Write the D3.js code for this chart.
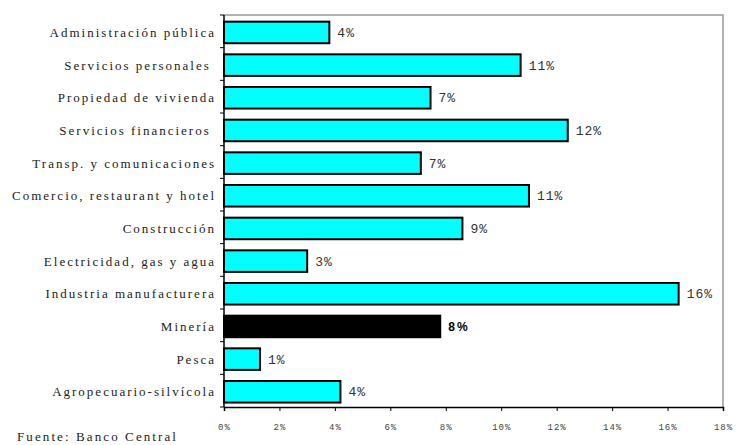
<!DOCTYPE html>
<html>
<head>
<meta charset="utf-8">
<script src="https://cdn.jsdelivr.net/npm/d3@7"></script>
<style>
  html, body { margin: 0; padding: 0; background: #fff; }
  svg { display: block; }
</style>
</head>
<body>
<svg id="chart" width="741" height="445"></svg>
<script>
// Sector shares (%), listed top to bottom
const categories = [
  "Administración pública",
  "Servicios personales ",
  "Propiedad de vivienda",
  "Servicios financieros ",
  "Transp. y comunicaciones",
  "Comercio, restaurant y hotel",
  "Construcción",
  "Electricidad, gas y agua",
  "Industria manufacturera",
  "Minería",
  "Pesca",
  "Agropecuario-silvícola"
];
const values = [3.8, 10.7, 7.45, 12.4, 7.1, 11.0, 8.6, 3.0, 16.4, 7.8, 1.3, 4.2];
const highlight = "Minería";
const xTicks = [0, 2, 4, 6, 8, 10, 12, 14, 16, 18];
const source = "Fuente: Banco Central";

const svg = d3.select("#chart");
const plotL = 224, plotR = 723, plotT = 15, plotB = 407;
const labelFont = "Liberation Serif, Times New Roman, serif";

const x = d3.scaleLinear().domain([0, 18]).range([plotL, plotR]);
const y = d3.scaleBand().domain(categories).range([plotT, plotB])
  .paddingInner(0.34).paddingOuter(0.17).align(0.6);

// plot frame (top and right in grey)
svg.append("path")
  .attr("d", `M${plotL},${plotT}H${plotR}V${plotB}`)
  .attr("fill", "none").attr("stroke", "#999").attr("stroke-width", 1.5);

// bars
const data = categories.map((c, i) => ({ c, v: values[i] }));
svg.append("g").selectAll("rect").data(data).join("rect")
  .attr("x", x(0))
  .attr("y", d => y(d.c))
  .attr("width", d => x(d.v) - x(0))
  .attr("height", y.bandwidth())
  .attr("fill", d => d.c === highlight ? "#000" : "#00ffff")
  .attr("stroke", "#000").attr("stroke-width", 2);

// value labels
svg.append("g").selectAll("text").data(data).join("text")
  .attr("x", d => x(d.v) + 8)
  .attr("y", d => y(d.c) + y.bandwidth() / 2)
  .attr("dy", "0.35em")
  .attr("font-family", d => d.c === highlight ? "Liberation Sans, Arial, sans-serif" : "Liberation Mono, Courier New, monospace")
  .attr("font-weight", d => d.c === highlight ? "bold" : "normal")
  .attr("font-size", d => d.c === highlight ? "12px" : "13px")
  .attr("letter-spacing", d => d.c === highlight ? "2px" : "1px")
  .attr("fill", d => d.c === highlight ? "#000" : "#333")
  .text(d => d3.format(".0f")(d.v) + "%");

// category axis: separators between bands
const step = y.step();
const seps = d3.range(categories.length + 1).map(i => plotT + i * step);
svg.append("g").selectAll("line").data(seps).join("line")
  .attr("x1", plotL - 4).attr("x2", plotL)
  .attr("y1", d => d).attr("y2", d => d)
  .attr("stroke", "#000").attr("stroke-width", 1);
svg.append("line")
  .attr("x1", plotL).attr("x2", plotL).attr("y1", plotT).attr("y2", plotB)
  .attr("stroke", "#000").attr("stroke-width", 1.5);

// category labels
svg.append("g").selectAll("text").data(categories).join("text")
  .attr("x", plotL - 8)
  .attr("y", d => y(d) + y.bandwidth() / 2)
  .attr("dy", "0.35em")
  .attr("text-anchor", "end")
  .attr("font-family", labelFont)
  .attr("font-size", "13px")
  .attr("letter-spacing", "2px")
  .attr("fill", "#222")
  .style("white-space", "pre")
  .text(d => d);

// value axis
const xAxis = d3.axisBottom(x)
  .tickValues(xTicks)
  .tickSize(4)
  .tickPadding(13)
  .tickFormat(d => d + "%");
const gx = svg.append("g").attr("transform", `translate(0,${plotB})`).call(xAxis);
gx.select(".domain").attr("stroke", "#000").attr("stroke-width", 1.5);
gx.selectAll(".tick line").attr("stroke", "#000");
gx.selectAll(".tick text")
  .attr("font-family", "Liberation Mono, Courier New, monospace")
  .attr("font-size", "9px")
  .attr("letter-spacing", "1px")
  .attr("fill", "#444");

// source note
svg.append("text")
  .attr("x", 17).attr("y", 441)
  .attr("font-family", labelFont)
  .attr("font-size", "13px")
  .attr("letter-spacing", "2.1px")
  .attr("fill", "#222")
  .text(source);
</script>
</body>
</html>
